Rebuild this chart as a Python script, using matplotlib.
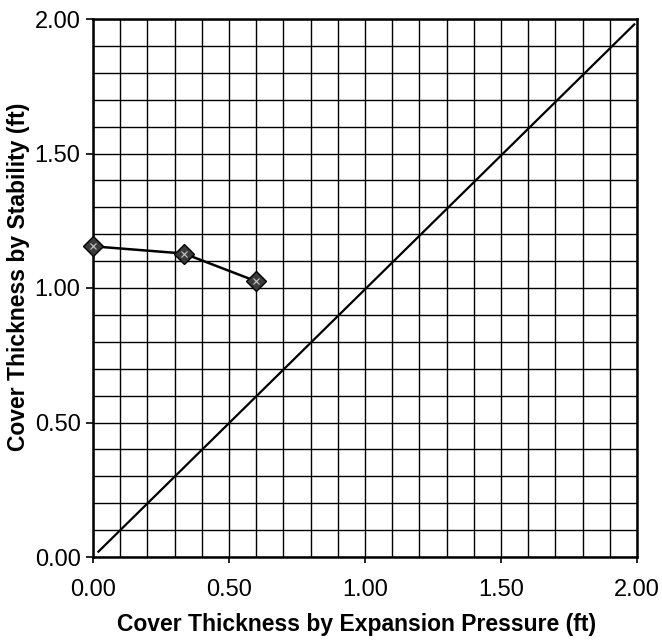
import matplotlib
matplotlib.use("Agg")
import matplotlib.pyplot as plt
from matplotlib.ticker import MultipleLocator

plt.rcParams['font.family'] = ['Liberation Sans', 'DejaVu Sans']

# Cover thickness data (ft)
expansion_ft = [0.00, 0.335, 0.60]
stability_ft = [1.155, 1.128, 1.025]

# 1:1 reference line
diag_x = [0.02, 1.99]
diag_y = [0.02, 1.98]

tick_values = [0.0, 0.5, 1.0, 1.5, 2.0]
tick_labels = ["0.00", "0.50", "1.00", "1.50", "2.00"]

W, H = 662, 640
fig = plt.figure(figsize=(W / 100, H / 100), dpi=100)
ax = fig.add_axes([93 / W, 1 - 557 / H, (637 - 93) / W, (557 - 19) / H])

ax.set_xlim(0, 2)
ax.set_ylim(0, 2)

ax.xaxis.set_minor_locator(MultipleLocator(0.1))
ax.yaxis.set_minor_locator(MultipleLocator(0.1))
ax.grid(which='both', color='black', linewidth=1.0)
ax.set_axisbelow(True)

ax.set_xticks(tick_values)
ax.set_xticklabels(tick_labels)
ax.set_yticks(tick_values)
ax.set_yticklabels(tick_labels)
ax.tick_params(which='minor', length=0)
ax.tick_params(axis='x', which='major', direction='out', length=4, width=1.2,
               labelsize=17, pad=12)
ax.tick_params(axis='y', which='major', direction='out', length=5, width=1.2,
               labelsize=17, pad=4)

for s in ax.spines.values():
    s.set_linewidth(1.8)
    s.set_color('black')

ax.plot(diag_x, diag_y, color='black', linewidth=1.6, zorder=3)

ax.plot(expansion_ft, stability_ft, color='black', linewidth=1.8,
        marker='D', markersize=10, markerfacecolor='#3a3a3a',
        markeredgecolor='black', markeredgewidth=1.0, zorder=4, clip_on=False)
ax.plot(expansion_ft, stability_ft, linestyle='none', marker='x',
        markersize=4, markeredgecolor='#bbbbbb', markeredgewidth=0.9,
        zorder=5, clip_on=False)

ax.set_xlabel("Cover Thickness by Expansion Pressure (ft)", fontsize=16.5,
              fontweight='bold')
ax.set_ylabel("Cover Thickness by Stability (ft)", fontsize=16.5,
              fontweight='bold')
ax.xaxis.label.set_verticalalignment('center')
ax.yaxis.label.set_verticalalignment('center')
ax.yaxis.label.set_rotation_mode('default')
ax.xaxis.set_label_coords(0.485, (557 - 624) / 538)
ax.yaxis.set_label_coords((19 - 93) / 544, (557 - 277) / 538)

fig.savefig("out.png", dpi=100, facecolor='white')
